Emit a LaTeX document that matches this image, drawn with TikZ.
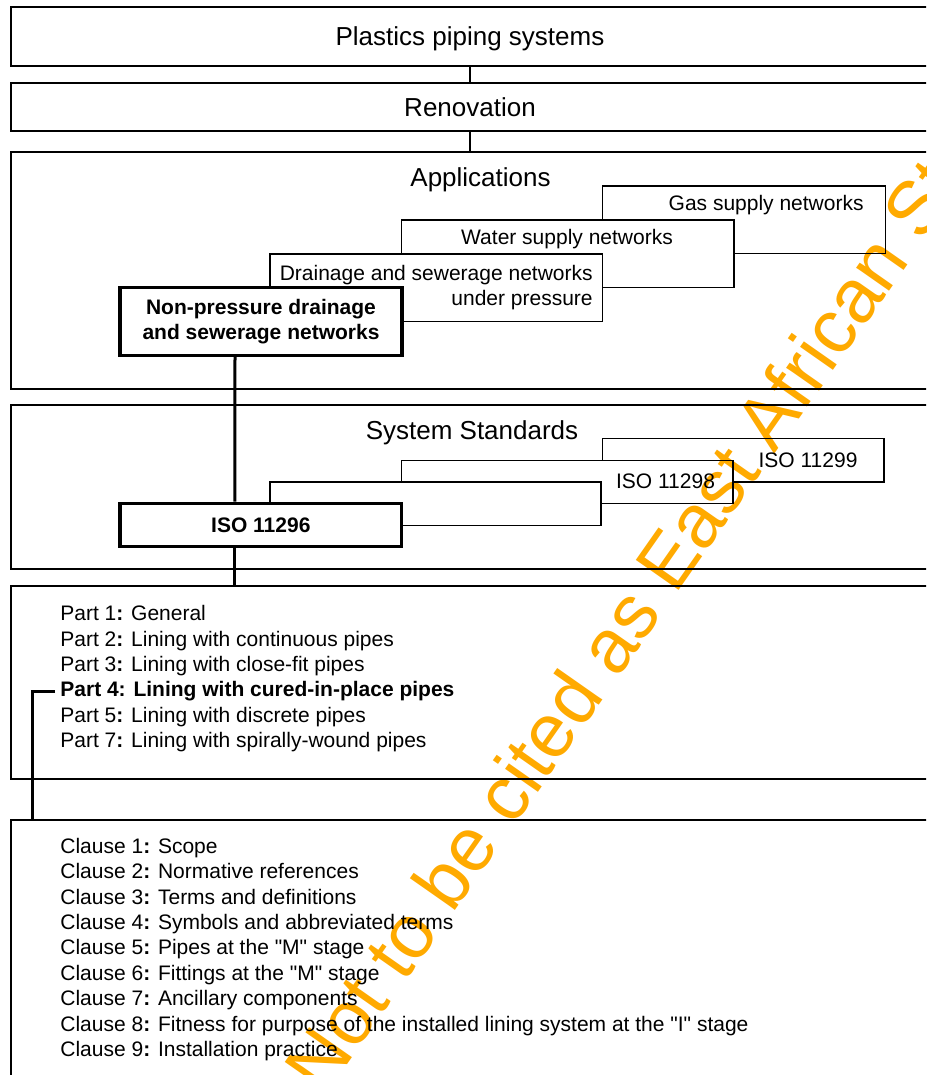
\documentclass[tikz,border=0pt]{standalone}
\usepackage{fontspec}
\setmainfont{Liberation Sans}[Ligatures=TeXOff]
\usepackage{tikz}

\definecolor{stamp}{RGB}{255,170,0}

\tikzset{
  frame/.style={draw, line width=1pt, fill=white, minimum width=459pt, inner sep=0pt},
  tab/.style={draw, line width=0.7pt, fill=white, inner sep=0pt},
  keybox/.style={draw, line width=1.7pt, fill=white, inner sep=0pt, align=center,
    font=\fontsize{10.5}{12.5}\selectfont\bfseries},
  heading/.style={anchor=base, inner sep=0pt, font=\fontsize{13}{15.6}\selectfont},
  entry/.style={anchor=base west, inner sep=0pt},
  feed/.style={line width=0.6pt},
  trunk/.style={line width=1.5pt},
  stampmark/.style={text=stamp, anchor=base west, inner sep=0pt, rotate=55,
    font=\fontsize{38}{40}\selectfont},
}

\begin{document}
\fontsize{10.5}{12.5}\selectfont
\begin{tikzpicture}[x=0.5pt, y=-0.5pt]
\useasboundingbox (0,0) rectangle (926,1075);
\clip (0,0) rectangle (926,1075);

% top levels
\node[frame, minimum height=29.5pt, text depth=0pt, font=\fontsize{13}{15.6}\selectfont] (plastics) at (470,36.5) {Plastics piping systems};
\node[frame, minimum height=24pt, text depth=0pt, font=\fontsize{13}{15.6}\selectfont] (renovation) at (470,107) {Renovation};
\draw[feed] (plastics) -- (renovation);

% applications
\node[frame, minimum height=118pt] (applications) at (470,270.5) {};
\draw[feed] (renovation) -- (applications);
\node[heading] (apptitle) at (480.5,186.7) {Applications};

\node[tab, minimum width=141.5pt, minimum height=33.75pt] (gas) at (744,219.75) {};
\node[entry, anchor=base east] (gaslabel) at (864,211) {Gas supply networks};
\node[tab, minimum width=166.25pt, minimum height=33.75pt] (water) at (567.75,253.75) {};
\node[entry, anchor=base] (waterlabel) at (567,244.3) {Water supply networks};
\node[tab, minimum width=166.25pt, minimum height=33.75pt, align=right] (drainage) at (436.25,287.75) {Drainage and sewerage networks\\under pressure};
\node[keybox, minimum width=141pt, minimum height=34pt] (nonpressure) at (261,321.5) {Non-pressure drainage\\and sewerage networks};

% system standards
\node[frame, minimum height=82pt] (standards) at (470,487) {};
\node[heading] (stdtitle) at (472,439) {System Standards};

\node[tab, minimum width=140.75pt, minimum height=21.65pt] (iso11299) at (743.25,460.35) {};
\node[entry, anchor=base] (label11299) at (808,467.3) {ISO 11299};
\node[tab, minimum width=165.75pt, minimum height=21.7pt] (iso11298) at (567.25,482) {};
\node[entry, anchor=base] (label11298) at (665.5,488.3) {ISO 11298};
\node[tab, minimum width=165.5pt, minimum height=21.65pt] (iso11297) at (435.5,503.65) {};
\node[keybox, minimum width=140.8pt, minimum height=21.7pt] (iso11296) at (260.8,525) {ISO 11296};

% parts
\node[frame, minimum height=96.5pt] (parts) at (470,682) {};
\node[entry] (part1) at (60,620.7) {Part 1\textbf{:} General};
\node[entry] (part2) at (60,646.1) {Part 2\textbf{:} Lining with continuous pipes};
\node[entry] (part3) at (60,671.5) {Part 3\textbf{:} Lining with close-fit pipes};
\node[entry, font=\bfseries] (part4) at (60,696.9) {Part 4: Lining with cured-in-place pipes};
\node[entry] (part5) at (60,722.3) {Part 5\textbf{:} Lining with discrete pipes};
\node[entry] (part7) at (60,747.7) {Part 7\textbf{:} Lining with spirally-wound pipes};

% clauses
\node[frame, minimum height=135pt] (clauses) at (470,955) {};
\foreach \name [count=\i] in {Scope, Normative references, Terms and definitions,
  Symbols and abbreviated terms, Pipes at the "M" stage, Fittings at the "M" stage,
  Ancillary components, Fitness for purpose of the installed lining system at the "I" stage,
  Installation practice}
  \node[entry] (clause\i) at (60,{827.9+25.4*\i}) {Clause \i\textbf{:} \name};

% heavy links
\draw[trunk] ([xshift=-13pt]nonpressure.south) -- ([xshift=-13pt]iso11296.north);
\draw[trunk] ([xshift=-13pt]iso11296.south) -- ([xshift=-13pt]iso11296.south |- parts.north);
\draw[trunk, shorten <=2.5pt] (part4.west) -| ([xshift=11pt]clauses.north west);

\begin{scope}[blend mode=multiply]
\node[stampmark] (stamp) at (324,1098) {Not to be cited as East African Standard};
\end{scope}

\end{tikzpicture}
\end{document}
